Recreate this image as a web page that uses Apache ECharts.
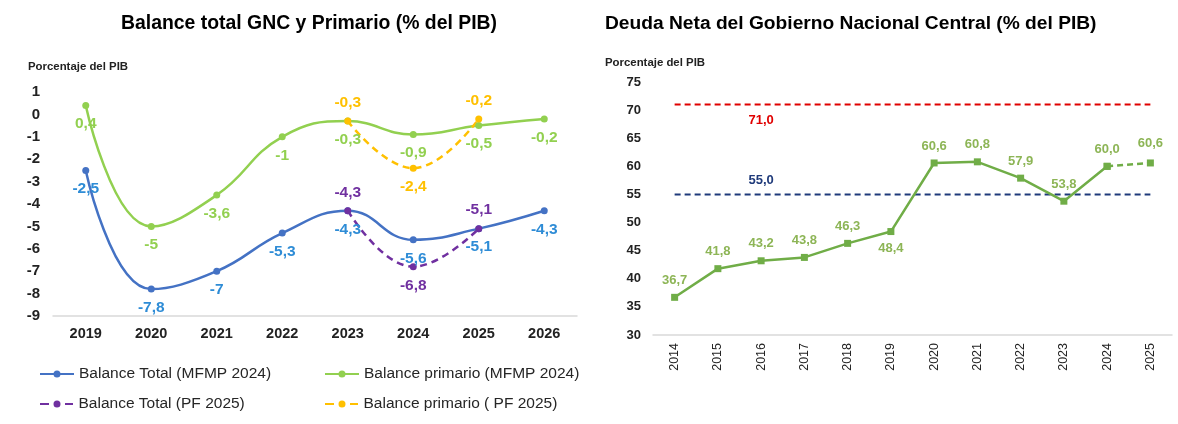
<!DOCTYPE html>
<html>
<head>
<meta charset="utf-8">
<script src="https://cdn.jsdelivr.net/npm/echarts@6/dist/echarts.min.js"></script>
<style>
  html, body { margin: 0; padding: 0; background: #fff; }
  #chart { width: 1178px; height: 424px; }
</style>
</head>
<body>
<div id="chart"></div>
<script>
// grafico izquierdo: balance GNC
var yearsBal = ['2019', '2020', '2021', '2022', '2023', '2024', '2025', '2026'];
var totalMfmp = [-2.5, -7.8, -7, -5.3, -4.3, -5.6, -5.1, -4.3];
var primMfmp = [0.4, -5, -3.6, -1, -0.3, -0.9, -0.5, -0.2];
var totalPf = [null, null, null, null, -4.3, -6.8, -5.1, null];
var primPf = [null, null, null, null, -0.3, -2.4, -0.2, null];
var balTicks = [1, 0, -1, -2, -3, -4, -5, -6, -7, -8, -9];

// grafico derecho: deuda neta
var yearsDeuda = ['2014', '2015', '2016', '2017', '2018', '2019', '2020', '2021', '2022', '2023', '2024', '2025'];
var deuda = [36.7, 41.8, 43.2, 43.8, 46.3, 48.4, 60.6, 60.8, 57.9, 53.8, 60.0, null];
var deudaProy = [null, null, null, null, null, null, null, null, null, null, 60.0, 60.6];
var limite = 71.0;
var ancla = 55.0;

var font = 'Liberation Sans, Arial, sans-serif';

// iconos de leyenda: linea con punto
var iconSolid = 'path://M0,2.5L34,2.5L34,4.5L0,4.5Z M13.5,3.5A3.5,3.5 0 1,1 20.5,3.5A3.5,3.5 0 1,1 13.5,3.5Z';
var iconDash = 'path://M0,2.5L9,2.5L9,4.5L0,4.5Z M13.5,3.5A3.5,3.5 0 1,1 20.5,3.5A3.5,3.5 0 1,1 13.5,3.5Z M25,2.5L33,2.5L33,4.5L25,4.5Z';

function coma(v) {
    return String(v).replace('.', ',');
}
function coma1(v) {
    return v.toFixed(1).replace('.', ',');
}

// etiquetas con posicion por punto
function withPos(values, positions) {
    return values.map(function (v, i) {
        if (v == null) return null;
        return {value: v, label: {position: positions[i]}};
    });
}

function refLine(value, n) {
    var arr = [];
    for (var i = 0; i < n; i++) arr.push(value);
    return arr;
}

function legendItem(name, icon, left, top) {
    return {
        left: left, top: top, padding: 0, itemWidth: 34, itemHeight: 7,
        icon: icon,
        textStyle: {fontSize: 15.5, color: '#262626', fontFamily: font},
        data: [name]
    };
}

var myChart = echarts.init(document.getElementById('chart'));

var lblBase = {show: true, fontFamily: font, fontSize: 15.5, fontWeight: 'bold', distance: 7,
    formatter: function (p) { return coma(p.value); }};

var option = {
    animation: false,
    textStyle: {fontFamily: font},
    title: [
        {text: 'Balance total GNC y Primario (% del PIB)', left: 121, top: 14, padding: 0,
            textStyle: {fontSize: 19.4, fontWeight: 'bold', color: '#000', fontFamily: font}},
        {text: 'Porcentaje del PIB', left: 28, top: 61, padding: 0,
            textStyle: {fontSize: 11.4, fontWeight: 'bold', color: '#222', fontFamily: font}},
        {text: 'Deuda Neta del Gobierno Nacional Central (% del PIB)', left: 605, top: 14, padding: 0,
            textStyle: {fontSize: 19.2, fontWeight: 'bold', color: '#000', fontFamily: font}},
        {text: 'Porcentaje del PIB', left: 605, top: 57, padding: 0,
            textStyle: {fontSize: 11.4, fontWeight: 'bold', color: '#222', fontFamily: font}}
    ],
    legend: [
        legendItem('Balance Total (MFMP 2024)', iconSolid, 40, 366),
        legendItem('Balance Total (PF 2025)', iconDash, 40, 396),
        legendItem('Balance primario (MFMP 2024)', iconSolid, 325, 366),
        legendItem('Balance primario ( PF 2025)', iconDash, 325, 396)
    ],
    grid: [
        {left: 53, right: 601, top: 92, bottom: 108, outerBoundsMode: 'none'},
        {left: 653, right: 6, top: 82, bottom: 89, outerBoundsMode: 'none'}
    ],
    xAxis: [
        {type: 'category', gridIndex: 0, data: yearsBal,
            axisLine: {onZero: false, lineStyle: {color: '#d9d9d9', width: 1.5}}, axisTick: {show: false},
            axisLabel: {fontSize: 14.5, fontWeight: 'bold', color: '#222', margin: 10}},
        {type: 'category', gridIndex: 1, data: yearsDeuda,
            axisLine: {onZero: false, lineStyle: {color: '#d9d9d9', width: 1.5}}, axisTick: {show: false},
            axisLabel: {fontSize: 12.5, color: '#222', rotate: 90, margin: 8}}
    ],
    yAxis: [
        {type: 'value', gridIndex: 0, min: balTicks[balTicks.length - 1], max: balTicks[0], interval: 1,
            axisLine: {show: false}, axisTick: {show: false}, splitLine: {show: false},
            axisLabel: {fontSize: 15, fontWeight: 'bold', color: '#222', margin: 13}},
        {type: 'value', gridIndex: 1, min: 30, max: 75, interval: 5,
            axisLine: {show: false}, axisTick: {show: false}, splitLine: {show: false},
            axisLabel: {fontSize: 13, fontWeight: 'bold', color: '#222', margin: 12}}
    ],
    series: [
        {
            name: 'Balance Total (MFMP 2024)', type: 'line', xAxisIndex: 0, yAxisIndex: 0,
            smooth: 0.45, symbol: 'circle', symbolSize: 7,
            lineStyle: {color: '#4472C4', width: 2.5}, itemStyle: {color: '#4472C4'},
            label: Object.assign({}, lblBase, {position: 'bottom', color: '#2E8CD6'}),
            data: totalMfmp
        },
        {
            name: 'Balance primario (MFMP 2024)', type: 'line', xAxisIndex: 0, yAxisIndex: 0,
            smooth: 0.45, symbol: 'circle', symbolSize: 7,
            lineStyle: {color: '#92D050', width: 2.5}, itemStyle: {color: '#92D050'},
            label: Object.assign({}, lblBase, {position: 'bottom', color: '#92D050'}),
            data: primMfmp
        },
        {
            name: 'Balance Total (PF 2025)', type: 'line', xAxisIndex: 0, yAxisIndex: 0,
            smooth: 0.45, symbol: 'circle', symbolSize: 7,
            lineStyle: {color: '#7030A0', width: 2.5, type: [7, 5]}, itemStyle: {color: '#7030A0'},
            label: Object.assign({}, lblBase, {color: '#7030A0'}),
            data: withPos(totalPf, [null, null, null, null, 'top', 'bottom', 'top', null])
        },
        {
            name: 'Balance primario ( PF 2025)', type: 'line', xAxisIndex: 0, yAxisIndex: 0,
            smooth: 0.45, symbol: 'circle', symbolSize: 7,
            lineStyle: {color: '#FFC000', width: 2.5, type: [7, 5]}, itemStyle: {color: '#FFC000'},
            label: Object.assign({}, lblBase, {color: '#FFC000'}),
            data: withPos(primPf, [null, null, null, null, 'top', 'bottom', 'top', null])
        },
        {
            name: 'Limite', type: 'line', xAxisIndex: 1, yAxisIndex: 1, symbol: 'none',
            lineStyle: {color: '#E00000', width: 2, type: [6, 4]},
            label: {show: false},
            data: refLine(limite, yearsDeuda.length).map(function (v, i) {
                return i === 2 ? {value: v, symbol: 'circle', symbolSize: 0,
                    label: {show: true, position: 'bottom', distance: 9, color: '#E00000',
                        fontSize: 13, fontWeight: 'bold', formatter: function (p) { return coma1(p.value); }}} : v;
            }),
            z: 1
        },
        {
            name: 'Ancla', type: 'line', xAxisIndex: 1, yAxisIndex: 1, symbol: 'none',
            lineStyle: {color: '#1F3A7A', width: 2, type: [6, 4]},
            label: {show: false},
            data: refLine(ancla, yearsDeuda.length).map(function (v, i) {
                return i === 2 ? {value: v, symbol: 'circle', symbolSize: 0,
                    label: {show: true, position: 'top', distance: 8, color: '#1F3A7A',
                        fontSize: 13, fontWeight: 'bold', formatter: function (p) { return coma1(p.value); }}} : v;
            }),
            z: 1
        },
        {
            name: 'Deuda', type: 'line', xAxisIndex: 1, yAxisIndex: 1,
            symbol: 'rect', symbolSize: 7,
            lineStyle: {color: '#70AD47', width: 2.5}, itemStyle: {color: '#70AD47'},
            label: {show: true, position: 'top', distance: 7, color: '#8DB556', fontSize: 13, fontWeight: 'bold',
                formatter: function (p) { return coma1(p.value); }},
            data: deuda.map(function (v, i) {
                if (v == null) return null;
                if (i === 5) return {value: v, label: {position: 'bottom'}};
                return v;
            }),
            z: 3
        },
        {
            name: 'Deuda proy', type: 'line', xAxisIndex: 1, yAxisIndex: 1,
            symbol: 'rect', symbolSize: 7,
            lineStyle: {color: '#70AD47', width: 2.5, type: [6, 4]}, itemStyle: {color: '#70AD47'},
            label: {show: true, position: 'top', distance: 10, color: '#8DB556', fontSize: 13, fontWeight: 'bold',
                formatter: function (p) { return p.dataIndex === 11 ? coma1(p.value) : ''; }},
            data: deudaProy,
            z: 2
        }
    ]
};
myChart.setOption(option);
</script>
</body>
</html>
